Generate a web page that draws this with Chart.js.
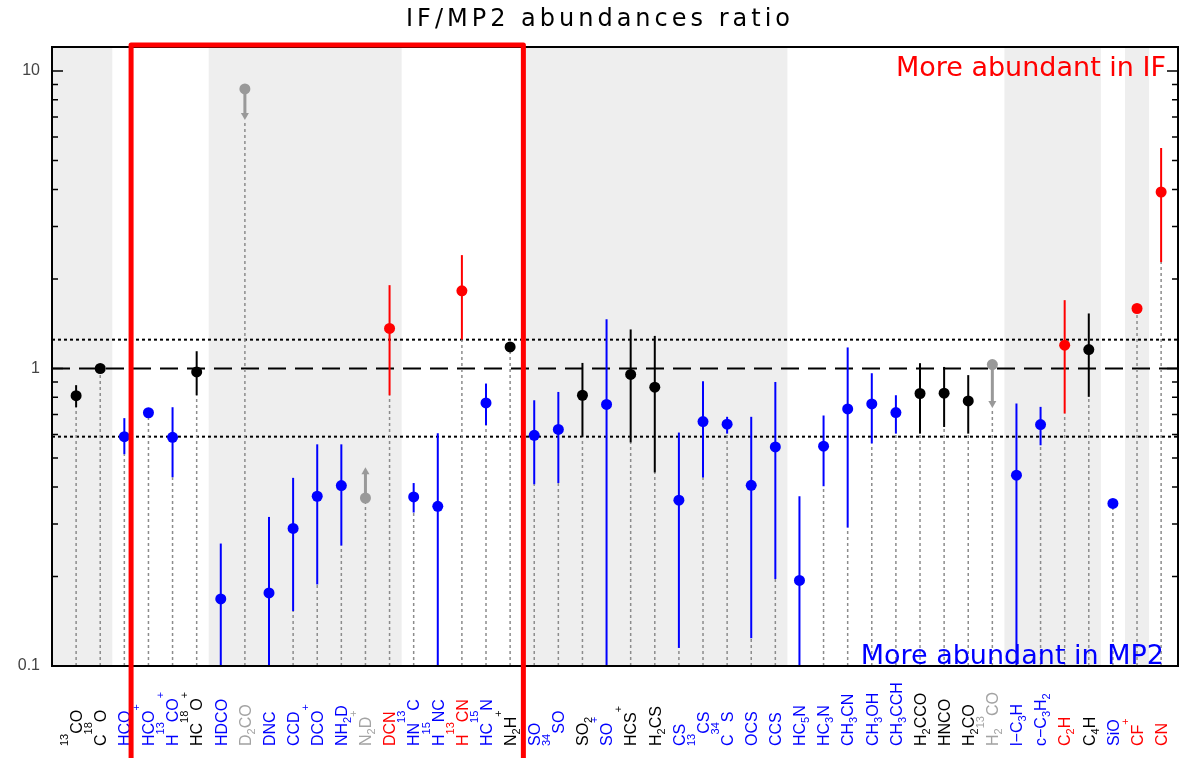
<!DOCTYPE html>
<html>
<head>
<meta charset="utf-8">
<script src="https://cdn.jsdelivr.net/npm/chart.js@4.4.1/dist/chart.umd.min.js"></script>
<style>
  html, body { margin: 0; padding: 0; background: #fff; }
  #wrap { width: 1186px; height: 758px; }
</style>
</head>
<body>
<div id="wrap"><canvas id="ratio-chart"></canvas></div>
<script>
// species in plot order ( ^ = superscript, _ = subscript )
const species = ['^13CO', 'C^18O', 'HCO', 'HCO^+', 'H^13CO^+', 'HC^18O^+', 'HDCO', 'D_2CO', 'DNC', 'CCD',
  'DCO^+', 'NH_2D', 'N_2D^+', 'DCN', 'HN^13C', 'H^15NC', 'H^13CN', 'HC^15N', 'N_2H^+', 'SO',
  '^34SO', 'SO_2', 'SO^+', 'HCS^+', 'H_2CS', 'CS', '^13CS', 'C^34S', 'OCS', 'CCS',
  'HC_5N', 'HC_3N', 'CH_3CN', 'CH_3OH', 'CH_3CCH', 'H_2CCO', 'HNCO', 'H_2CO', 'H_2^13CO', 'l\u2212C_3H',
  'c\u2212C_3H_2', 'C_2H', 'C_4H', 'SiO', 'CF^+', 'CN'];

// IF/MP2 ratio and its error range (null = no bar drawn)
const ratio = [0.81, 1.0, 0.59, 0.71, 0.587, 0.974, 0.168, 8.7, 0.176, 0.29,
  0.372, 0.404, 0.367, 1.363, 0.37, 0.344, 1.824, 0.766, 1.182, 0.596,
  0.624, 0.813, 0.757, 0.955, 0.865, 0.361, 0.663, 0.65, 0.405, 0.545,
  0.194, 0.548, 0.731, 0.76, 0.711, 0.824, 0.826, 0.778, 1.031, 0.438,
  0.648, 1.198, 1.158, 0.352, 1.591, 3.92];
const errLow = [0.741, null, 0.515, null, 0.431, 0.813, 0.05, null, 0.05, 0.153,
  0.188, 0.254, null, 0.813, 0.328, 0.05, 1.252, 0.645, null, 0.408,
  0.412, 0.589, 0.05, 0.564, 0.447, 0.115, 0.43, 0.604, 0.124, 0.196,
  0.05, 0.402, 0.292, 0.56, 0.604, 0.604, 0.636, 0.604, null, 0.05,
  0.552, 0.706, 0.803, null, null, 2.278];
const errHigh = [0.879, null, 0.681, null, 0.741, 1.143, 0.258, null, 0.317, 0.429,
  0.556, 0.556, null, 1.906, 0.412, 0.606, 2.405, 0.89, null, 0.782,
  0.834, 1.044, 1.465, 1.353, 1.287, 0.609, 0.906, 0.688, 0.688, 0.901,
  0.372, 0.695, 1.177, 0.964, 0.813, 1.042, 1.012, 0.95, null, 0.763,
  0.743, 1.697, 1.531, null, null, 5.51];
// limits: arrow tip value (upper limit points down, lower limit points up)
const limitTo = [null, null, null, null, null, null, null, 6.84, null, null,
  null, null, 0.466, null, null, null, null, null, null, null,
  null, null, null, null, null, null, null, null, null, null,
  null, null, null, null, null, null, null, null, 0.737, null,
  null, null, null, null, null, null];
// k = similar, b = more in MP2, r = more in IF, g = limit
const group = ['k', 'k', 'b', 'b', 'b', 'k', 'b', 'g', 'b', 'b',
  'b', 'b', 'g', 'r', 'b', 'b', 'r', 'b', 'k', 'b',
  'b', 'k', 'b', 'k', 'k', 'b', 'b', 'b', 'b', 'b',
  'b', 'b', 'b', 'b', 'b', 'k', 'k', 'k', 'g', 'b',
  'b', 'r', 'k', 'b', 'r', 'r'];
// shaded families (first and last species index)
const shadedRuns = [[0, 1], [6, 13], [19, 29], [39, 42], [44, 44]];
const unityLevel = 1;
const bandLevels = [1.25, 0.59];

const pointColor = { k: '#000000', b: '#0000ff', r: '#ff0000', g: '#999999' };
const labelColor = { k: '#000000', b: '#0000ff', r: '#ff0000', g: '#a3a3a3' };

function drawRich(ctx, text, cx, startY, color) {
  const big = 16, small = 11;
  ctx.save();
  ctx.translate(cx, startY);
  ctx.rotate(-Math.PI / 2);
  ctx.fillStyle = color;
  ctx.textAlign = 'left';
  ctx.textBaseline = 'alphabetic';
  const base = big * 0.36;
  let pos = 0;
  const re = /([\^_])(\d+|\+)|([^\^_]+)/g;
  let m;
  while ((m = re.exec(text)) !== null) {
    if (m[3]) {
      ctx.font = big + 'px "Liberation Sans", Arial, sans-serif';
      ctx.fillText(m[3], pos, base);
      pos += ctx.measureText(m[3]).width;
    } else {
      ctx.font = small + 'px "Liberation Sans", Arial, sans-serif';
      const dy = m[1] === '^' ? -14 : 4;
      ctx.fillText(m[2], pos, base + dy);
      pos += ctx.measureText(m[2]).width;
    }
  }
  ctx.restore();
}

const backdrop = {
  id: 'backdrop',
  beforeDatasetsDraw(chart) {
    const { ctx, chartArea: a, scales: { x, y } } = chart;
    ctx.save();
    ctx.beginPath();
    ctx.rect(a.left, a.top, a.right - a.left, a.bottom - a.top);
    ctx.clip();

    ctx.fillStyle = '#eeeeee';
    shadedRuns.forEach(([s, e]) => {
      const x0 = s === 0 ? a.left : x.getPixelForValue(s + 0.5);
      const x1 = x.getPixelForValue(e + 1.5);
      ctx.fillRect(x0, a.top, x1 - x0, a.bottom - a.top);
    });

    // reference levels
    ctx.strokeStyle = '#000';
    ctx.lineWidth = 2;
    ctx.setLineDash([3, 3]);
    bandLevels.forEach(v => {
      const py = y.getPixelForValue(v);
      ctx.beginPath(); ctx.moveTo(a.left, py); ctx.lineTo(a.right, py); ctx.stroke();
    });
    ctx.setLineDash([18, 9]);
    const p1 = y.getPixelForValue(unityLevel);
    ctx.beginPath(); ctx.moveTo(a.left, p1); ctx.lineTo(a.right, p1); ctx.stroke();

    // drop lines
    ctx.strokeStyle = '#8c8c8c';
    ctx.lineWidth = 1.5;
    ctx.setLineDash([3, 3]);
    species.forEach((s, i) => {
      let lo = ratio[i];
      if (errLow[i] !== null) lo = Math.min(lo, errLow[i]);
      if (limitTo[i] !== null) lo = Math.min(lo, limitTo[i]);
      if (lo <= 0.1) return;
      const px = x.getPixelForValue(i + 1);
      ctx.beginPath(); ctx.moveTo(px, a.bottom); ctx.lineTo(px, y.getPixelForValue(lo)); ctx.stroke();
    });
    ctx.setLineDash([]);

    // error bars
    ctx.lineWidth = 2;
    species.forEach((s, i) => {
      if (errLow[i] === null) return;
      const px = x.getPixelForValue(i + 1);
      ctx.strokeStyle = pointColor[group[i]];
      ctx.beginPath();
      ctx.moveTo(px, y.getPixelForValue(errLow[i]));
      ctx.lineTo(px, y.getPixelForValue(errHigh[i]));
      ctx.stroke();
    });

    // limit arrows
    species.forEach((s, i) => {
      if (limitTo[i] === null) return;
      const px = x.getPixelForValue(i + 1);
      const py0 = y.getPixelForValue(ratio[i]);
      const py1 = y.getPixelForValue(limitTo[i]);
      const dir = py1 > py0 ? 1 : -1;
      ctx.strokeStyle = '#999999';
      ctx.fillStyle = '#999999';
      ctx.lineWidth = 3;
      ctx.beginPath(); ctx.moveTo(px, py0); ctx.lineTo(px, py1 - dir * 5); ctx.stroke();
      ctx.beginPath();
      ctx.moveTo(px, py1);
      ctx.lineTo(px - 4, py1 - dir * 7);
      ctx.lineTo(px + 4, py1 - dir * 7);
      ctx.closePath();
      ctx.fill();
    });
    ctx.restore();
  },
  afterDraw(chart) {
    const { ctx, chartArea: a, scales: { x, y } } = chart;
    ctx.save();
    // frame
    ctx.strokeStyle = '#000';
    ctx.lineWidth = 2;
    ctx.strokeRect(a.left, a.top, a.right - a.left, a.bottom - a.top);
    // inward log ticks, both sides
    ctx.lineWidth = 1.5;
    for (let d = -1; d <= 1; d++) {
      for (let k = 1; k <= 9; k++) {
        const v = k * Math.pow(10, d);
        if (v < y.min || v > y.max) continue;
        const py = y.getPixelForValue(v);
        const len = k === 1 ? 11 : 6;
        ctx.beginPath();
        ctx.moveTo(a.left, py); ctx.lineTo(a.left + len, py);
        ctx.moveTo(a.right, py); ctx.lineTo(a.right - len, py);
        ctx.stroke();
      }
    }
    // species labels
    species.forEach((s, i) => {
      drawRich(ctx, s, x.getPixelForValue(i + 1), 746, labelColor[group[i]]);
    });
    // title and notes
    ctx.font = '24px "DejaVu Sans", sans-serif';
    ctx.letterSpacing = '4px';
    ctx.fillStyle = '#000';
    ctx.textAlign = 'center';
    ctx.textBaseline = 'middle';
    ctx.fillText('IF/MP2 abundances ratio', 600, 20);
    ctx.letterSpacing = '0px';
    ctx.font = '27px "DejaVu Sans", sans-serif';
    ctx.textAlign = 'right';
    ctx.textBaseline = 'alphabetic';
    ctx.fillStyle = '#ff0000';
    ctx.fillText('More abundant in IF', a.right - 12, 76);
    ctx.fillStyle = '#0000ff';
    ctx.fillText('More abundant in MP2', a.right - 14, a.bottom - 2);
    // highlight box around the deuterated / isotopologue block
    ctx.strokeStyle = '#ff0000';
    ctx.lineWidth = 5;
    ctx.lineJoin = 'round';
    const bx0 = x.getPixelForValue(3.28), bx1 = x.getPixelForValue(19.55);
    ctx.strokeRect(bx0, a.top - 2, bx1 - bx0, chart.height + 20 - a.top);
    ctx.restore();
  }
};

const ctx = document.getElementById('ratio-chart').getContext('2d');
const ratioChart = new Chart(ctx, {
  type: 'scatter',
  data: {
    datasets: [{
      label: 'IF/MP2',
      data: species.map((s, i) => ({ x: i + 1, y: ratio[i] })),
      pointBackgroundColor: group.map(g => pointColor[g]),
      pointBorderWidth: 0,
      pointRadius: 5.5,
      pointHoverRadius: 5.5
    }]
  },
  options: {
    responsive: true,
    maintainAspectRatio: false,
    animation: false,
    layout: { padding: { top: 47, right: 8, bottom: 92, left: 0 } },
    plugins: { legend: { display: false }, tooltip: { enabled: false }, title: { display: false } },
    scales: {
      x: { type: 'linear', min: 0, max: 46.7, display: false },
      y: {
        type: 'logarithmic',
        min: 0.1,
        max: 12.04,
        afterFit(scale) { scale.width = 52; },
        border: { display: false },
        grid: { display: false, drawTicks: false },
        ticks: {
          autoSkip: false,
          padding: 12,
          color: '#444',
          font: { family: '"Liberation Sans", Arial, sans-serif', size: 16 },
          callback(v) {
            const l = Math.log10(v);
            return Math.abs(l - Math.round(l)) < 1e-6 ? String(Number(v.toPrecision(1))) : '';
          }
        }
      }
    }
  },
  plugins: [backdrop]
});
</script>
</body>
</html>
